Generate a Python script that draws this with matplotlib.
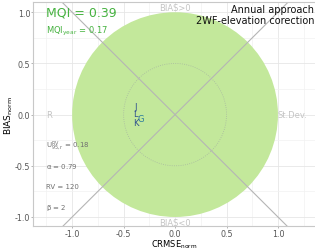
#!/usr/bin/env python3

# Target diagram (MQI) for annual approach, 2WF-elevation correction

import matplotlib
matplotlib.use('Agg')
import matplotlib.pyplot as plt
import numpy as np

# Station values (CRMSE_norm, BIAS_norm) and labels
stations = ['J', 'L', 'G', 'K']
crmse = [-0.38, -0.385, -0.33, -0.38]
bias = [0.08, 0.01, -0.04, -0.08]
station_colors = ['#2e4f8f', '#2e4f8f', '#2b7d9c', '#2e4f8f']

mqi = 0.39
mqi_year = 0.17
u_rv = 0.18
alpha = 0.79
rv = 120
beta = 2

xticks = [-1.0, -0.5, 0.0, 0.5, 1.0]
yticks = [-1.0, -0.5, 0.0, 0.5, 1.0]

plt.rcParams['mathtext.default'] = 'regular'
plt.rcParams['font.family'] = ['DejaVu Sans']


def main():
  fig = plt.figure(figsize=(3.15, 2.51), dpi=100)
  ax = fig.add_axes([0.105, 0.094, 0.895, 0.894])

  ax.set_xlim(-1.38, 1.36)
  ax.set_ylim(-1.092, 1.10)

  # Grid
  ax.set_xticks(xticks)
  ax.set_yticks(yticks)
  ax.set_xticks([-1.25, -0.75, -0.25, 0.25, 0.75, 1.25], minor=True)
  ax.set_yticks([-0.75, -0.25, 0.25, 0.75], minor=True)
  ax.grid(which='major', color='#e6e6e6', lw=0.6)
  ax.grid(which='minor', color='#f2f2f2', lw=0.5)
  ax.set_axisbelow(True)

  # Green target area
  circ = plt.Circle((0, 0), 1.0, color='#c3e89b', zorder=1, lw=0)
  ax.add_patch(circ)
  th = np.linspace(0, 2 * np.pi, 300)
  ax.plot(0.5 * np.cos(th), 0.5 * np.sin(th), color='#a8b8a0', lw=0.6,
    ls=':', zorder=2)

  # Diagonals
  ax.plot([-1.1, 1.1], [-1.1, 1.1], color='#b5b5b5', lw=0.8, zorder=2)
  ax.plot([-1.1, 1.1], [1.1, -1.1], color='#b5b5b5', lw=0.8, zorder=2)

  # Quadrant labels
  lc = '#c4c4c4'
  ax.text(0, 1.05, 'BIAS>0', color=lc, fontsize=6, ha='center', va='center')
  ax.text(0, -1.05, 'BIAS<0', color=lc, fontsize=6, ha='center', va='center')
  ax.text(-1.25, 0.0, 'R', color=lc, fontsize=6, ha='left', va='center')
  ax.text(1.0, 0.0, 'St.Dev.', color=lc, fontsize=6, ha='left', va='center')

  # Station labels
  for s, x, y, c in zip(stations, crmse, bias, station_colors):
    ax.text(x, y, s, color=c, fontsize=6, ha='center', va='center', zorder=5)

  # MQI text
  green = '#45b23f'
  ax.text(-1.25, 1.0, 'MQI = %.2f' % mqi, color=green, fontsize=9,
    ha='left', va='center')
  ax.text(-1.25, 0.82, r'MQI$_{year}$ = %.2f' % mqi_year, color=green,
    fontsize=6, ha='left', va='center')

  # Parameters
  pc = '#707070'
  ax.text(-1.25, -0.3, r'U$^{RV}_{95,r}$ = %.2f' % u_rv, color=pc,
    fontsize=5, ha='left', va='center')
  ax.text(-1.25, -0.5, r'$\alpha$ = %.2f' % alpha, color=pc, fontsize=5,
    ha='left', va='center')
  ax.text(-1.25, -0.7, 'RV = %d' % rv, color=pc, fontsize=5, ha='left',
    va='center')
  ax.text(-1.25, -0.9, r'$\beta$ = %d' % beta, color=pc, fontsize=5,
    ha='left', va='center')

  ax.text(0.997, 0.99, 'Annual approach\n2WF-elevation corection',
    transform=ax.transAxes, ha='right', va='top', fontsize=7,
    color='#111111', linespacing=1.1)

  # Axes styling
  ax.spines['right'].set_visible(False)
  for side in ['left', 'bottom', 'top']:
    ax.spines[side].set_color('#c8c8c8')
    ax.spines[side].set_linewidth(0.8)
  ax.tick_params(which='both', length=1.5, width=0.5, color='#999999',
    labelsize=5.8, labelcolor='#555555', pad=0.5)
  ax.tick_params(which='minor', length=0)
  ax.set_xticklabels(['%.1f' % v for v in xticks])
  ax.set_yticklabels(['%.1f' % v for v in yticks])

  ax.set_xlabel(r'CRMSE$_{norm}$', fontsize=6, va='bottom')
  ax.set_ylabel(r'BIAS$_{norm}$', fontsize=6.5, va='center')
  ax.xaxis.set_label_coords(0.5, -0.104)
  ax.yaxis.set_label_coords(-0.085, 0.5)

  fig.savefig('out.png', dpi=100)


if __name__ == '__main__':
  main()
